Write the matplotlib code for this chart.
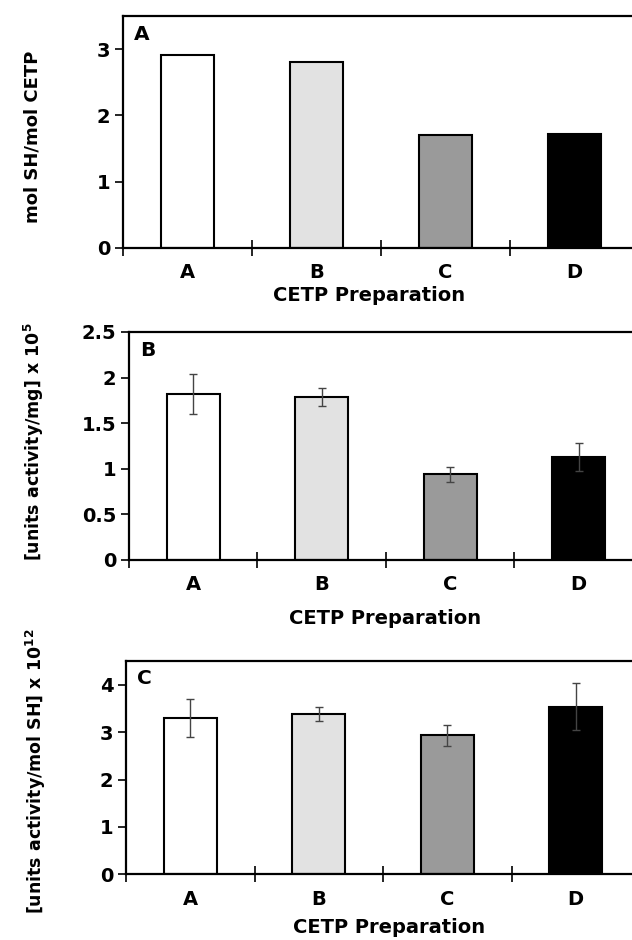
import matplotlib
matplotlib.use('Agg')
import matplotlib.pyplot as plt
import numpy as np

plt.rcParams['font.family'] = ['DejaVu Sans']
plt.rcParams['font.weight'] = 'bold'
plt.rcParams['mathtext.fontset'] = 'custom'
plt.rcParams['mathtext.rm'] = 'DejaVu Sans:bold'
plt.rcParams['mathtext.bf'] = 'DejaVu Sans:bold'

categories = ['A', 'B', 'C', 'D']
bar_colors = ['white', '#e2e2e2', '#9a9a9a', 'black']

sh_content = [2.91, 2.81, 1.71, 1.72]

spec_activity = [1.82, 1.79, 0.94, 1.13]
spec_activity_err = [0.22, 0.10, 0.08, 0.15]

sh_activity = [3.30, 3.38, 2.93, 3.54]
sh_activity_err = [0.40, 0.15, 0.23, 0.49]

fig = plt.figure(figsize=(6.32, 9.4), dpi=100)

panels = [
    # rect, letter, ylabel, values, errors, ylim, yticks, ticklabels, xlabel pos, ylabel pos, ylabel size
    ([0.1946, 0.7362, 0.8165, 0.2468], 'A', 'mol SH/mol CETP', sh_content, None,
     3.5, [0, 1, 2, 3], ['0', '1', '2', '3'], (0.477, -0.165), (33, 137), 13),
    ([0.2041, 0.4043, 0.8133, 0.2426], 'B', r'[units activity/mg] x 10$^{5}$',
     spec_activity, spec_activity_err, 2.5, [0, 0.5, 1, 1.5, 2, 2.5],
     ['0', '0.5', '1', '1.5', '2', '2.5'], (0.498, -0.215), (34, 442), 12.5),
    ([0.1994, 0.0699, 0.8133, 0.2269], 'C', r'[units activity/mol SH] x 10$^{12}$',
     sh_activity, sh_activity_err, 4.5, [0, 1, 2, 3, 4], ['0', '1', '2', '3', '4'],
     (0.512, -0.205), (36, 771), 12.5),
]

x = np.arange(len(categories))
for rect, letter, ylab, vals, errs, ytop, yt, ytl, xlpos, ylpos, ylsize in panels:
    ax = fig.add_axes(rect)
    ax.bar(x, vals, width=0.41, color=bar_colors, edgecolor='black', linewidth=1.5, zorder=2)
    if errs is not None:
        ax.errorbar(x, vals, yerr=errs, fmt='none', ecolor='#444444', elinewidth=1.0,
                    capsize=3, capthick=1.0, zorder=3)
    ax.set_xlim(-0.5, 3.5)
    ax.set_ylim(0, ytop)
    for s in ax.spines.values():
        s.set_linewidth(1.6)
    ax.set_yticks(yt)
    ax.set_yticklabels(ytl, fontsize=14, fontweight='bold')
    ax.tick_params(axis='y', direction='out', length=6, width=1.2, pad=3)
    ax.set_xticks([-0.5, 0.5, 1.5, 2.5, 3.5])
    ax.set_xticklabels([])
    ax.tick_params(axis='x', which='major', direction='inout', length=12, width=1.2)
    ax.set_xticks(x, minor=True)
    ax.set_xticklabels(categories, minor=True, fontsize=14, fontweight='bold')
    ax.tick_params(axis='x', which='minor', length=0, pad=11)
    ax.set_xlabel('CETP Preparation', fontsize=14, fontweight='bold')
    ax.xaxis.set_label_coords(*xlpos)
    ax.text(0.022, 0.92, letter, transform=ax.transAxes, fontsize=14.5,
            fontweight='bold', va='center', ha='left')
    fig.text(ylpos[0] / 632, 1 - ylpos[1] / 940, ylab, rotation=90, fontsize=ylsize,
             fontweight='bold', ha='center', va='center')

fig.savefig('out.png', dpi=100)
